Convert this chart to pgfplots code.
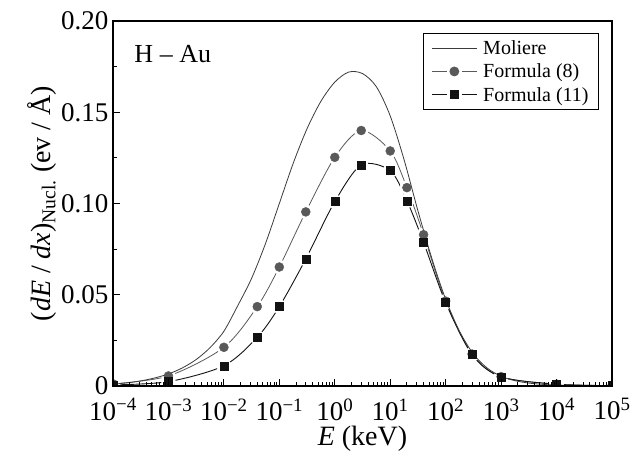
\documentclass[border=0pt]{standalone}
\usepackage{fontspec}
\setmainfont{Liberation Serif}
\usepackage{pgfplots}
\usepackage{pgfplotstable}
\pgfplotsset{compat=1.18}

\definecolor{molcol}{HTML}{3A3A3A}
\definecolor{fAcol}{HTML}{595959}
\definecolor{fBcol}{HTML}{121212}

% Moliere curve, every quarter decade
\pgfplotstableread{
E        val
1e-4     0.0010
1.778e-4 0.0017
3.162e-4 0.0028
5.623e-4 0.0044
1e-3     0.0066
1.778e-3 0.0099
3.162e-3 0.0145
5.623e-3 0.0210
0.01     0.0300
0.01778  0.0440
0.03162  0.0590
0.05623  0.0780
0.1      0.1000
0.1778   0.1220
0.3162   0.1410
0.5623   0.1560
1        0.1665
1.778    0.1720
3.162    0.1712
5.623    0.1640
10       0.1480
17.78    0.1240
31.62    0.0960
56.23    0.0700
100      0.0475
177.8    0.0300
316.2    0.0175
562.3    0.0098
1000     0.0053
1778     0.0029
3162     0.0016
5623     0.0009
1e4      0.0005
31623    0.0002
1e5      0.0001
}\moliere

% Formula (8)
\pgfplotstableread{
E     val
1e-4  0.0012
1e-3  0.0055
1e-2  0.0212
0.04  0.0435
0.1   0.0652
0.3   0.0954
1     0.1253
3     0.1400
10    0.1288
20    0.1087
40    0.0829
100   0.0465
300   0.0175
1000  0.0051
1e4   0.0010
1e5   0.0002
}\formA

% Formula (11)
\pgfplotstableread{
E     val
1e-4  0.0006
1e-3  0.0024
1e-2  0.0111
0.04  0.0267
0.1   0.0435
0.3   0.0696
1     0.1010
3     0.1211
10    0.1180
20    0.1015
40    0.0787
100   0.0457
300   0.0172
1000  0.0050
1e4   0.0010
1e5   0.0002
}\formB

\begin{document}
\begin{tikzpicture}
\begin{axis}[
  scale only axis, width=499pt, height=365pt,
  xmode=log, xmin=1e-4, xmax=1e5, ymin=0, ymax=0.2,
  xtick={1e-4,1e-3,1e-2,1e-1,1,10,100,1000,1e4,1e5},
  xticklabels={10\textsuperscript{−4},10\textsuperscript{−3},10\textsuperscript{−2},
    10\textsuperscript{−1},10\textsuperscript{0},10\textsuperscript{1},10\textsuperscript{2},
    10\textsuperscript{3},10\textsuperscript{4},10\textsuperscript{5}},
  minor xtick={2e-4,3e-4,4e-4,5e-4,6e-4,7e-4,8e-4,9e-4,
    2e-3,3e-3,4e-3,5e-3,6e-3,7e-3,8e-3,9e-3,
    0.02,0.03,0.04,0.05,0.06,0.07,0.08,0.09,
    0.2,0.3,0.4,0.5,0.6,0.7,0.8,0.9,
    2,3,4,5,6,7,8,9,
    20,30,40,50,60,70,80,90,
    200,300,400,500,600,700,800,900,
    2000,3000,4000,5000,6000,7000,8000,9000,
    2e4,3e4,4e4,5e4,6e4,7e4,8e4,9e4},
  ytick={0,0.05,0.1,0.15,0.2},
  yticklabels={0,0.05,0.10,0.15,0.20},
  minor ytick={0.025,0.075,0.125,0.175},
  tick align=inside, xtick pos=bottom, ytick pos=left,
  major tick length=7pt, minor tick length=4pt,
  tick style={black, line width=0.9pt},
  axis line style={line width=1.1pt},
  ticklabel style={font=\fontsize{27}{27}\selectfont},
  xticklabel style={yshift=-9pt},
  yticklabel style={xshift=-1pt},
  label style={font=\fontsize{28}{28}\selectfont},
  xlabel={\textit{E} (keV)},
  ylabel={(\textit{dE} / \textit{dx})\textsubscript{Nucl.} (ev / Å)},
  xlabel style={yshift=1pt},
  ylabel style={yshift=-2pt},
  axis on top,
  clip marker paths=true,
  legend style={at={(1,1)}, anchor=north east, xshift=-13pt, yshift=-12pt,
    draw=black, line width=0.8pt, font=\fontsize{20}{20}\selectfont,
    inner xsep=8pt, inner ysep=5pt, row sep=4pt},
  legend cell align=left,
]
% lines
\addplot[fAcol, line width=0.8pt, smooth, forget plot] table[x=E, y=val] {\formA};
\addplot[fBcol, line width=0.9pt, smooth, forget plot] table[x=E, y=val] {\formB};
% white gaps round the markers
\addplot[only marks, mark=*, mark size=7pt, mark options={draw=white, fill=white}, forget plot] table[x=E, y=val] {\formA};
\addplot[only marks, mark=*, mark size=7pt, mark options={draw=white, fill=white}, forget plot] table[x=E, y=val] {\formB};
\addplot[molcol, line width=0.8pt, smooth, forget plot] table[x=E, y=val] {\moliere};
% markers
\addplot[only marks, mark=*, mark size=4.5pt, mark options={draw=fAcol, fill=fAcol}, forget plot] table[x=E, y=val] {\formA};
\addplot[only marks, mark=square*, mark size=4pt, mark options={draw=fBcol, fill=fBcol}, forget plot] table[x=E, y=val] {\formB};

\addlegendimage{legend image code/.code={\draw[molcol, line width=0.8pt] (0pt,0pt) -- (45pt,0pt); \path (49pt,0pt);}}
\addlegendentry{Moliere}
\addlegendimage{legend image code/.code={\draw[fAcol, line width=0.8pt] (0pt,0pt) -- (15pt,0pt) (30pt,0pt) -- (45pt,0pt); \fill[fAcol] (22.5pt,0pt) circle (4.5pt); \path (49pt,0pt);}}
\addlegendentry{Formula (8)}
\addlegendimage{legend image code/.code={\draw[fBcol, line width=0.8pt] (0pt,0pt) -- (15pt,0pt) (30pt,0pt) -- (45pt,0pt); \fill[fBcol] (18.5pt,-4pt) rectangle (26.5pt,4pt); \path (49pt,0pt);}}
\addlegendentry{Formula (11)}

\node[anchor=base west, font=\fontsize{26}{26}\selectfont] at (axis description cs:0.036,0.885) {H – Au};
\end{axis}
\pgfresetboundingbox
\path (-113pt,-66pt) rectangle (526pt,386pt);
\end{tikzpicture}
\end{document}
